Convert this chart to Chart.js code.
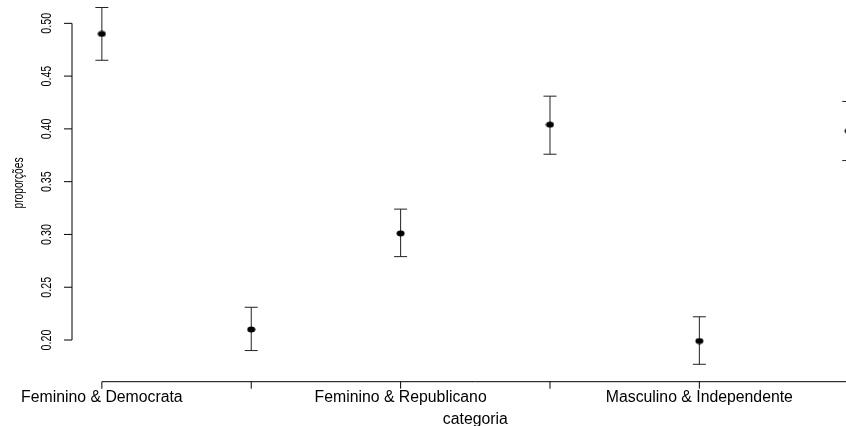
<!DOCTYPE html>
<html>
<head>
<meta charset="utf-8">
<script src="https://cdn.jsdelivr.net/npm/chart.js@4"></script>
<style>
  html, body { margin: 0; padding: 0; background: #fff; overflow: hidden; }
  #wrap { width: 846px; height: 426px; overflow: hidden; }
</style>
</head>
<body>
<div id="wrap"><canvas id="plot" width="900" height="426"></canvas></div>
<script>
// categorias (ordem alfabetica do fator)
var categorias = [
  "Feminino & Democrata",
  "Feminino & Independente",
  "Feminino & Republicano",
  "Masculino & Democrata",
  "Masculino & Independente",
  "Masculino & Republicano"
];
// proporcoes estimadas e limites do intervalo
var proporcoes = [0.490, 0.210, 0.301, 0.404, 0.199, 0.398];
var limiteInf  = [0.465, 0.190, 0.279, 0.376, 0.177, 0.370];
var limiteSup  = [0.515, 0.231, 0.324, 0.431, 0.222, 0.426];
var yTicks = [0.20, 0.25, 0.30, 0.35, 0.40, 0.45, 0.50];

var FONT = "'Liberation Sans', Arial, sans-serif";

// ponto ligeiramente achatado, como na figura
function makeDot() {
  var c = document.createElement("canvas");
  c.width = 9; c.height = 7;
  var g = c.getContext("2d");
  g.fillStyle = "#000";
  g.beginPath();
  g.ellipse(4.5, 3.5, 4.0, 3.0, 0, 0, Math.PI * 2);
  g.fill();
  return c;
}

// barras de erro + eixos no estilo do R base
var rAxes = {
  id: "rAxes",
  beforeDatasetsDraw: function (chart) {
    var ctx = chart.ctx, xs = chart.scales.x, ys = chart.scales.y;
    ctx.save();
    ctx.strokeStyle = "#222";
    ctx.lineWidth = 1;
    for (var i = 0; i < proporcoes.length; i++) {
      var px = xs.getPixelForValue(i + 1);
      var top = ys.getPixelForValue(limiteSup[i]);
      var bot = ys.getPixelForValue(limiteInf[i]);
      ctx.beginPath();
      ctx.moveTo(px, top); ctx.lineTo(px, bot);
      ctx.moveTo(px - 6.5, top); ctx.lineTo(px + 6.5, top);
      ctx.moveTo(px - 6.5, bot); ctx.lineTo(px + 6.5, bot);
      ctx.stroke();
    }
    ctx.restore();
  },
  afterDraw: function (chart) {
    var ctx = chart.ctx, xs = chart.scales.x, ys = chart.scales.y;
    var area = chart.chartArea;
    ctx.save();
    ctx.strokeStyle = "#000";
    ctx.fillStyle = "#000";
    ctx.lineWidth = 1;

    // eixo x
    var yAx = area.bottom;
    ctx.beginPath();
    ctx.moveTo(xs.getPixelForValue(1), yAx);
    ctx.lineTo(xs.getPixelForValue(categorias.length), yAx);
    for (var i = 0; i < categorias.length; i++) {
      var tx = xs.getPixelForValue(i + 1);
      ctx.moveTo(tx, yAx); ctx.lineTo(tx, yAx + 7);
    }
    ctx.stroke();

    ctx.font = "15.8px " + FONT;
    ctx.textAlign = "center";
    ctx.textBaseline = "alphabetic";
    var lastRight = -Infinity;
    for (var j = 0; j < categorias.length; j++) {
      var cx = xs.getPixelForValue(j + 1);
      var w = ctx.measureText(categorias[j]).width;
      if (cx - w / 2 > lastRight + 6) {
        ctx.fillText(categorias[j], cx, yAx + 20);
        lastRight = cx + w / 2;
      }
    }
    ctx.fillText("categoria", (area.left + area.right) / 2, 424);

    // eixo y
    var xAx = area.left;
    ctx.beginPath();
    ctx.moveTo(xAx, ys.getPixelForValue(yTicks[0]));
    ctx.lineTo(xAx, ys.getPixelForValue(yTicks[yTicks.length - 1]));
    yTicks.forEach(function (t) {
      var py = ys.getPixelForValue(t);
      ctx.moveTo(xAx, py); ctx.lineTo(xAx - 8, py);
    });
    ctx.stroke();

    ctx.font = "14.5px " + FONT;
    ctx.textBaseline = "middle";
    yTicks.forEach(function (t) {
      var py = ys.getPixelForValue(t);
      ctx.save();
      ctx.translate(47, py);
      ctx.rotate(-Math.PI / 2);
      ctx.scale(0.74, 1);
      ctx.fillText(t.toFixed(2), 0, 0);
      ctx.restore();
    });
    ctx.font = "15px " + FONT;
    ctx.save();
    ctx.translate(19, 183);
    ctx.rotate(-Math.PI / 2);
    ctx.scale(0.68, 1);
    ctx.fillText("proporções", 0, 0);
    ctx.restore();

    ctx.restore();
  }
};

document.addEventListener("DOMContentLoaded", function () {
  var ctx = document.getElementById("plot").getContext("2d");
  var dot = makeDot();
  new Chart(ctx, {
    type: "scatter",
    data: {
      datasets: [{
        data: proporcoes.map(function (v, i) { return { x: i + 1, y: v }; }),
        pointStyle: dot,
        pointRadius: 4,
        showLine: false
      }]
    },
    options: {
      responsive: false,
      animation: false,
      devicePixelRatio: 1,
      layout: {
        autoPadding: false,
        padding: { left: 72, right: 21.4, top: 0, bottom: 44.3 }
      },
      plugins: { legend: { display: false }, tooltip: { enabled: false } },
      scales: {
        x: { type: "linear", min: 0.8, max: 6.2, display: false },
        y: { type: "linear", min: 0.1605, max: 0.5221, display: false }
      }
    },
    plugins: [rAxes]
  });
});
</script>
</body>
</html>
